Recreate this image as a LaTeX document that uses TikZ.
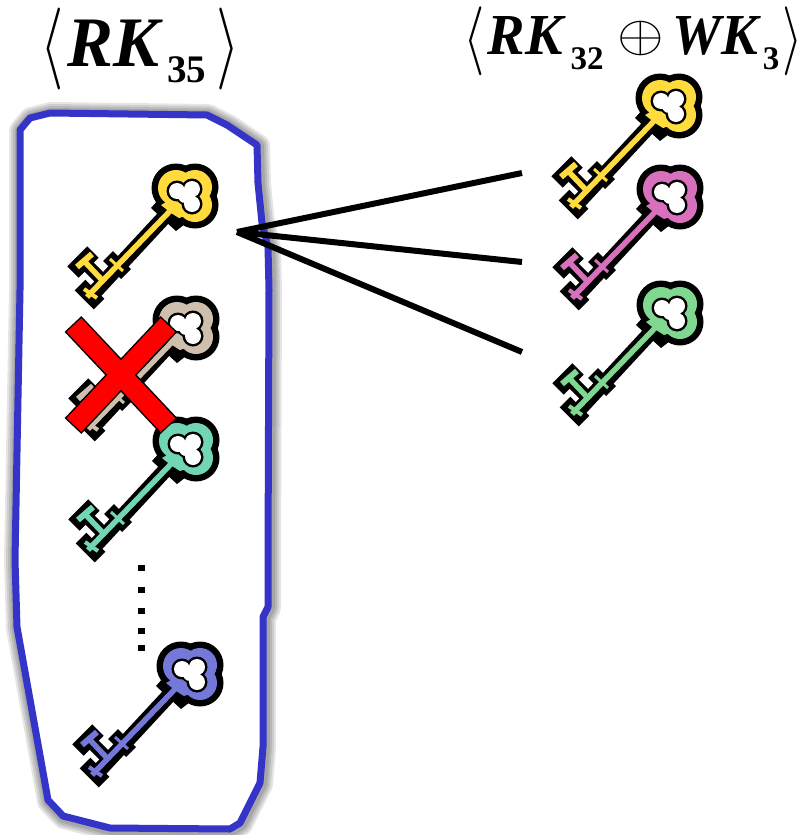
\documentclass[tikz,border=0pt]{standalone}
\usepackage{fontspec}
\setmainfont{Liberation Serif}
\definecolor{kyellow}{HTML}{FFDB3E}
\definecolor{ktan}{HTML}{CFC0AE}
\definecolor{kteal}{HTML}{72D6B6}
\definecolor{kpink}{HTML}{D870BE}
\definecolor{kgreen}{HTML}{80D890}
\definecolor{kblue}{HTML}{7478D8}
\definecolor{boxblue}{HTML}{3434C8}
\newcommand{\blueoutline}{(20,130) -- (30,118) -- (50,113) -- (207,115) -- (227,125) -- (257,145) -- (258,183) -- (262,223) -- (268,247) -- (269,290) -- (268,560) -- (268,607) -- (263,617) -- (263,747) -- (260,783) -- (240,823) -- (230,829) -- (110,828) -- (63,816) -- (48,800) -- (17,627) -- (15,560) -- (20,290) -- cycle}
\tikzset{
  keylabel/.style={inner sep=0pt},
  connector/.style={line width=6pt,black},
  pics/thekey/.style={code={
    % black silhouette
    \fill[black] (-9,-8) circle (24.5) (10,-9) circle (23.5) (10,9) circle (23.5) (0,0) circle (20);
    \fill[black] (-34,12) -- (-26,3) -- (0,28) -- (-9,35) -- (-20,25) -- cycle;
    \draw[black,line width=15pt] (-16,16) -- (-94,100);
    \draw[black,line width=14pt] (-77,60) -- (-59,78);
    \draw[black,line width=15pt] (-105,89) -- (-86,108);
    \draw[black,line width=13pt] (-83,84) -- (-100,67);
    \draw[black,line width=16pt] (-112,76) -- (-92,56);
    % coloured body
    \fill[#1] (-9,-8) circle (18) (10,-9) circle (17) (10,9) circle (17) (0,0) circle (15);
    \fill[#1] (-24,9) -- (-14,3) -- (0,20) -- (-6,22) -- (-14,17) -- cycle;
    \draw[#1,line width=5.5pt] (-14,14) -- (-98,101);
    \draw[#1,line width=3pt] (-75,63) -- (-62,75);
    \draw[#1,line width=4pt] (-101,93) -- (-88,102);
    \draw[#1,line width=5.5pt] (-83,84) -- (-100,66);
    \draw[#1,line width=6pt] (-108,71) -- (-93,58);
    % hole
    \fill[black] (-8,-5) circle (10.5) (7,-7) circle (10.5) (7,8) circle (10.5) (0,0) circle (9);
    \fill[white] (-8,-5) circle (8) (7,-7) circle (8) (7,8) circle (8) (0,0) circle (7);
  }}
}
\begin{document}
\begin{tikzpicture}[x=1pt,y=-1pt]
\useasboundingbox (0,0) rectangle (802,835);
% labels
\node[keylabel] (lbracketA) at (52,49) {\scalebox{6}[8.2]{$\langle$}};
\node[keylabel,font=\bfseries\itshape\fontsize{71}{71}\selectfont] (rkA) at (113,43.5) {\scalebox{.97}[1]{RK}};
\node[keylabel,font=\bfseries\fontsize{39}{39}\selectfont] (subA) at (186.5,70) {35};
\node[keylabel] (rbracketA) at (228,49) {\scalebox{6}[8.2]{$\rangle$}};
\node[keylabel] (lbracketB) at (474,41) {\scalebox{5.5}[6.9]{$\langle$}};
\node[keylabel,font=\bfseries\itshape\fontsize{58}{58}\selectfont] (rkB) at (525,36) {\scalebox{.97}[1]{RK}};
\node[keylabel,font=\bfseries\fontsize{33}{33}\selectfont] (subB) at (587,58.5) {32};
\node[keylabel] (oplusB) at (641,38.5) {\scalebox{6}[5.2]{$\oplus$}};
\node[keylabel,font=\bfseries\itshape\fontsize{58}{58}\selectfont] (wkB) at (715,36) {\scalebox{.95}[1]{WK}};
\node[keylabel,font=\bfseries\fontsize{33}{33}\selectfont] (subC) at (771,58.5) {3};
\node[keylabel] (rbracketB) at (793,41) {\scalebox{5.2}[6.9]{$\rangle$}};
% blue outline with its soft shadow
\begin{scope}[shift={(1,1)}]
\foreach \w in {24,20,16,12}
  \draw[black,opacity=.1,line width=\w pt,line join=round] \blueoutline;
\end{scope}
\fill[white] \blueoutline;
\draw[boxblue,line width=7pt,line join=round] \blueoutline;
% keys
\pic at (185,196) {thekey=kyellow};
\pic at (186,328) {thekey=ktan};
\pic at (186,449) {thekey=kteal};
\pic at (190,674) {thekey=kblue};
\pic at (669,106) {thekey=kyellow};
\pic at (670,197) {thekey=kpink};
\pic at (670,313) {thekey=kgreen};
% dots
\foreach \y in {568,590,611,631,648}
  \fill[black] (138,\y-3) rectangle (144.5,\y+3);
% connectors
\coordinate (hub) at (237,232);
\coordinate (endA) at (522,173);
\coordinate (endB) at (522,262);
\coordinate (endC) at (522,352);
\draw[connector] (hub) -- (endA);
\draw[connector] (hub) -- (endB);
\draw[connector] (hub) -- (endC);
% red cross
\draw[black,line width=23pt] (73,324) -- (169,426);
\draw[black,line width=23pt] (73,426) -- (169,324);
\draw[red,line width=20pt] (74,325) -- (168,425);
\draw[red,line width=20pt] (74,425) -- (168,325);
\end{tikzpicture}
\end{document}
